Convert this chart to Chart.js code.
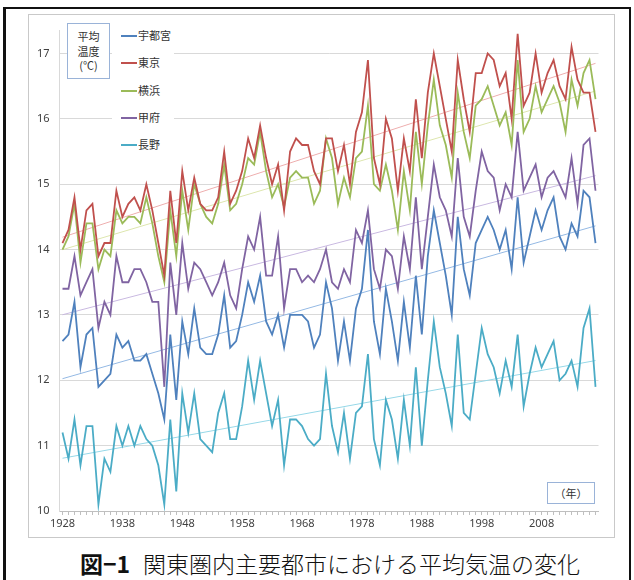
<!DOCTYPE html>
<html><head><meta charset="utf-8">
<script src="https://cdn.jsdelivr.net/npm/chart.js@4"></script>
<style>
html,body{margin:0;padding:0;background:#fff;}
body{width:634px;height:580px;position:relative;overflow:hidden;font-family:"Noto Sans CJK JP","Noto Sans",sans-serif;color:#222;}
#frame{position:absolute;left:3px;top:7px;width:628px;height:620px;border:2px solid #111;border-left-width:3px;box-sizing:border-box;}
#box{position:absolute;left:28px;top:14px;width:587px;height:524px;border:1px solid #c9c9c9;box-sizing:border-box;pointer-events:none;}
#c{position:absolute;left:28px;top:14px;}
#unit{position:absolute;left:67px;top:23px;width:43px;height:56px;border:1px solid #9ab3d8;background:#fff;box-sizing:border-box;font-size:11px;line-height:14.5px;text-align:center;padding-top:5px;color:#333;}
#legend{position:absolute;left:112px;top:24px;width:62px;height:130px;background:#fff;}
.li{position:absolute;left:9px;height:16px;font-size:11px;line-height:16px;color:#333;white-space:nowrap;}
.li i{display:inline-block;width:16px;height:2px;vertical-align:middle;margin-right:1px;position:relative;top:-1px;}
#nen{position:absolute;left:547px;top:482px;width:48px;height:22px;border:1px solid #9ab3d8;box-sizing:border-box;font-size:11px;line-height:20px;text-align:center;color:#333;background:#fff;}
#cap1{position:absolute;left:80px;top:548px;font-size:23px;font-weight:bold;line-height:30px;color:#111;}
#cap2{position:absolute;left:143px;top:548px;font-size:23px;font-weight:300;line-height:30px;color:#111;}
</style></head>
<body>
<div id="frame"></div>
<canvas id="c" width="587" height="524"></canvas>
<div id="box"></div>
<div id="unit">平均<br>温度<br>(℃)</div>
<div id="legend"></div>
<div id="nen">（年）</div>
<div id="cap1">図−1</div>
<div id="cap2">関東圏内主要都市における平均気温の変化</div>
<script>
const firstYear = 1928, lastYear = 2017;
const years = [];
for (let y = firstYear; y <= lastYear; y++) years.push(y);

const seriesNames = ['宇都宮', '東京', '横浜', '甲府', '長野'];

const utsunomiya = [12.6,12.7,13.2,12.2,12.7,12.8,11.9,12.0,12.1,12.7,12.5,12.6,12.3,12.3,12.4,
  12.1,11.8,11.4,12.7,11.7,12.9,12.4,13.1,12.5,12.4,12.4,12.7,13.3,12.5,12.6,
  13.0,13.5,13.2,13.6,12.9,12.7,13.0,12.5,13.0,13.0,13.0,12.9,12.5,12.7,13.5,
  13.1,12.3,12.9,12.3,13.1,13.4,14.3,12.9,12.4,13.4,12.9,12.3,13.2,12.5,13.6,
  12.7,13.9,14.6,14.1,13.6,13.0,14.5,13.7,13.3,14.1,14.3,14.5,14.3,14.0,14.3,
  13.7,14.8,13.8,14.2,14.6,14.3,14.6,14.8,14.2,14.0,14.4,14.2,14.9,14.8,14.1];

const tokyo = [14.1,14.3,14.8,14.0,14.6,14.7,13.9,14.1,14.1,14.9,14.5,14.7,14.8,14.6,15.0,
  14.6,14.1,13.6,14.9,14.1,15.2,14.6,15.1,14.7,14.6,14.6,14.8,15.5,14.7,14.9,
  15.2,15.7,15.4,15.9,15.4,15.0,15.3,14.6,15.5,15.7,15.6,15.6,15.2,15.0,15.7,
  15.7,15.2,15.6,15.0,15.8,16.1,16.9,15.4,15.0,16.0,15.7,14.9,15.7,15.2,16.3,
  15.4,16.4,17.0,16.5,16.0,15.5,16.9,16.3,15.8,16.7,16.7,17.0,16.9,16.5,16.7,
  16.0,17.3,16.2,16.4,17.0,16.4,16.7,16.9,16.5,16.3,17.1,16.6,16.4,16.4,15.8];

const yokohama = [14.0,14.2,14.7,13.8,14.4,14.4,13.7,14.0,13.9,14.6,14.4,14.5,14.5,14.4,14.8,
  14.4,13.9,13.5,14.6,13.9,14.9,14.3,15.0,14.7,14.5,14.4,14.7,15.3,14.6,14.7,
  15.0,15.4,15.3,15.8,15.2,14.8,15.0,14.65,15.1,15.2,15.1,15.1,14.7,14.9,15.7,
  15.4,14.7,15.1,14.8,15.4,15.5,16.2,15.0,14.9,15.3,14.9,14.3,15.2,14.6,15.8,
  15.0,15.9,16.6,15.9,15.6,15.1,16.4,15.8,15.4,16.2,16.3,16.5,16.2,15.9,16.1,
  15.6,16.9,15.8,16.0,16.5,16.1,16.3,16.5,16.25,15.8,16.6,16.2,16.7,16.9,16.3];

const kofu = [13.4,13.4,13.9,13.3,13.5,13.7,12.8,13.2,13.0,13.9,13.5,13.5,13.7,13.7,13.5,
  13.2,13.2,11.9,13.8,13.0,14.1,13.4,13.8,13.7,13.5,13.3,13.5,13.8,13.3,13.1,
  13.7,14.2,14.0,14.5,13.6,13.6,14.2,13.1,13.7,13.7,13.5,13.6,13.5,13.7,14.0,
  13.5,13.4,13.7,13.5,14.3,14.1,14.6,13.7,13.4,14.0,13.9,13.4,14.2,13.7,14.8,
  13.7,14.5,15.3,14.8,14.6,14.2,15.4,14.5,14.2,14.9,15.5,15.2,15.1,14.6,15.0,
  14.8,15.8,14.9,15.1,15.3,14.8,15.1,15.2,15.0,14.8,15.4,14.7,15.6,15.7,14.9];

const nagano = [11.2,10.8,11.4,10.7,11.3,11.3,10.1,10.8,10.6,11.3,11.0,11.3,11.0,11.3,11.1,
  11.0,10.7,10.1,11.4,10.3,11.8,11.2,11.8,11.1,11.0,10.9,11.5,11.8,11.1,11.1,
  11.6,12.3,11.7,12.3,11.8,11.3,11.7,10.7,11.4,11.4,11.3,11.1,11.0,11.1,12.1,
  11.3,10.9,11.5,10.8,11.5,11.6,12.4,11.1,10.7,11.7,11.4,10.8,11.7,11.0,12.2,
  11.0,12.0,12.9,12.2,11.8,11.3,12.7,11.5,11.4,12.1,12.8,12.4,12.2,11.8,12.3,
  11.9,12.7,11.6,12.1,12.5,12.2,12.4,12.6,12.0,12.1,12.3,11.9,12.8,13.1,11.9];

const xTickLabels = ['1928','1938','1948','1958','1968','1978','1988','1998','2008'];
const yTicks = [10,11,12,13,14,15,16,17];

const seriesValues = [utsunomiya, tokyo, yokohama, kofu, nagano];
const seriesColors = ['#4f81bd', '#c0504d', '#9bbb59', '#8064a2', '#4bacc6'];
const trendColors = ['#94b9e4', '#eeaeae', '#dde6ae', '#c9b9e1', '#96d8e8'];

function trend(vals) {
  const n = vals.length;
  let sx = 0, sy = 0, sxx = 0, sxy = 0;
  for (let i = 0; i < n; i++) { const x = years[i], y = vals[i]; sx += x; sy += y; sxx += x*x; sxy += x*y; }
  const b = (n*sxy - sx*sy) / (n*sxx - sx*sx);
  const a = (sy - b*sx) / n;
  return [{x: years[0], y: a + b*years[0]}, {x: years[n-1], y: a + b*years[n-1]}];
}

const datasets = [];
seriesValues.forEach((vals, k) => {
  datasets.push({
    label: seriesNames[k],
    data: vals.map((v, i) => ({x: years[i], y: v})),
    borderColor: seriesColors[k], borderWidth: 1.8, pointRadius: 0, tension: 0, fill: false, order: 1 + k
  });
});
seriesValues.forEach((vals, k) => {
  datasets.push({
    label: seriesNames[k] + ' 線形',
    data: trend(vals),
    borderColor: trendColors[k], borderWidth: 1, pointRadius: 0, fill: false, order: 20
  });
});

// HTML legend
const lg = document.getElementById('legend');
const legendY = [11, 38, 66, 93, 120];
seriesNames.forEach((nm, k) => {
  const d = document.createElement('div');
  d.className = 'li';
  d.style.top = (legendY[k] - 8) + 'px';
  d.innerHTML = '<i style="background:' + seriesColors[k] + '"></i>' + nm;
  lg.appendChild(d);
});

new Chart(document.getElementById('c'), {
  type: 'line',
  data: { datasets },
  options: {
    responsive: false, animation: false, devicePixelRatio: 1,
    layout: { padding: { left: 0, right: 16.5, top: 5, bottom: 0 } },
    plugins: { legend: { display: false }, tooltip: { enabled: false } },
    scales: {
      x: {
        type: 'linear', min: 1927.5, max: 2017.5,
        afterBuildTicks: s => { s.ticks = years.map(v => ({value: v})); },
        afterFit: s => { s.height = 27; },
        ticks: {
          autoSkip: false, maxRotation: 0, padding: 2, color: '#404040',
          font: { family: '"Noto Sans", sans-serif', size: 11 },
          callback: v => xTickLabels.includes(String(v)) ? String(v) : ''
        },
        grid: { drawOnChartArea: false, drawTicks: true, tickLength: 4, color: '#bfbfbf' },
        border: { color: '#bfbfbf', width: 1 }
      },
      y: {
        min: 10, max: 17.35,
        afterBuildTicks: s => { s.ticks = yTicks.map(v => ({value: v})); },
        afterFit: s => { s.width = 31.5; },
        ticks: { padding: 10, color: '#404040', font: { family: '"Noto Sans", sans-serif', size: 11 } },
        grid: { color: '#d9d9d9', drawTicks: false },
        border: { color: '#d9d9d9', width: 1 }
      }
    }
  }
});
</script>
</body></html>
